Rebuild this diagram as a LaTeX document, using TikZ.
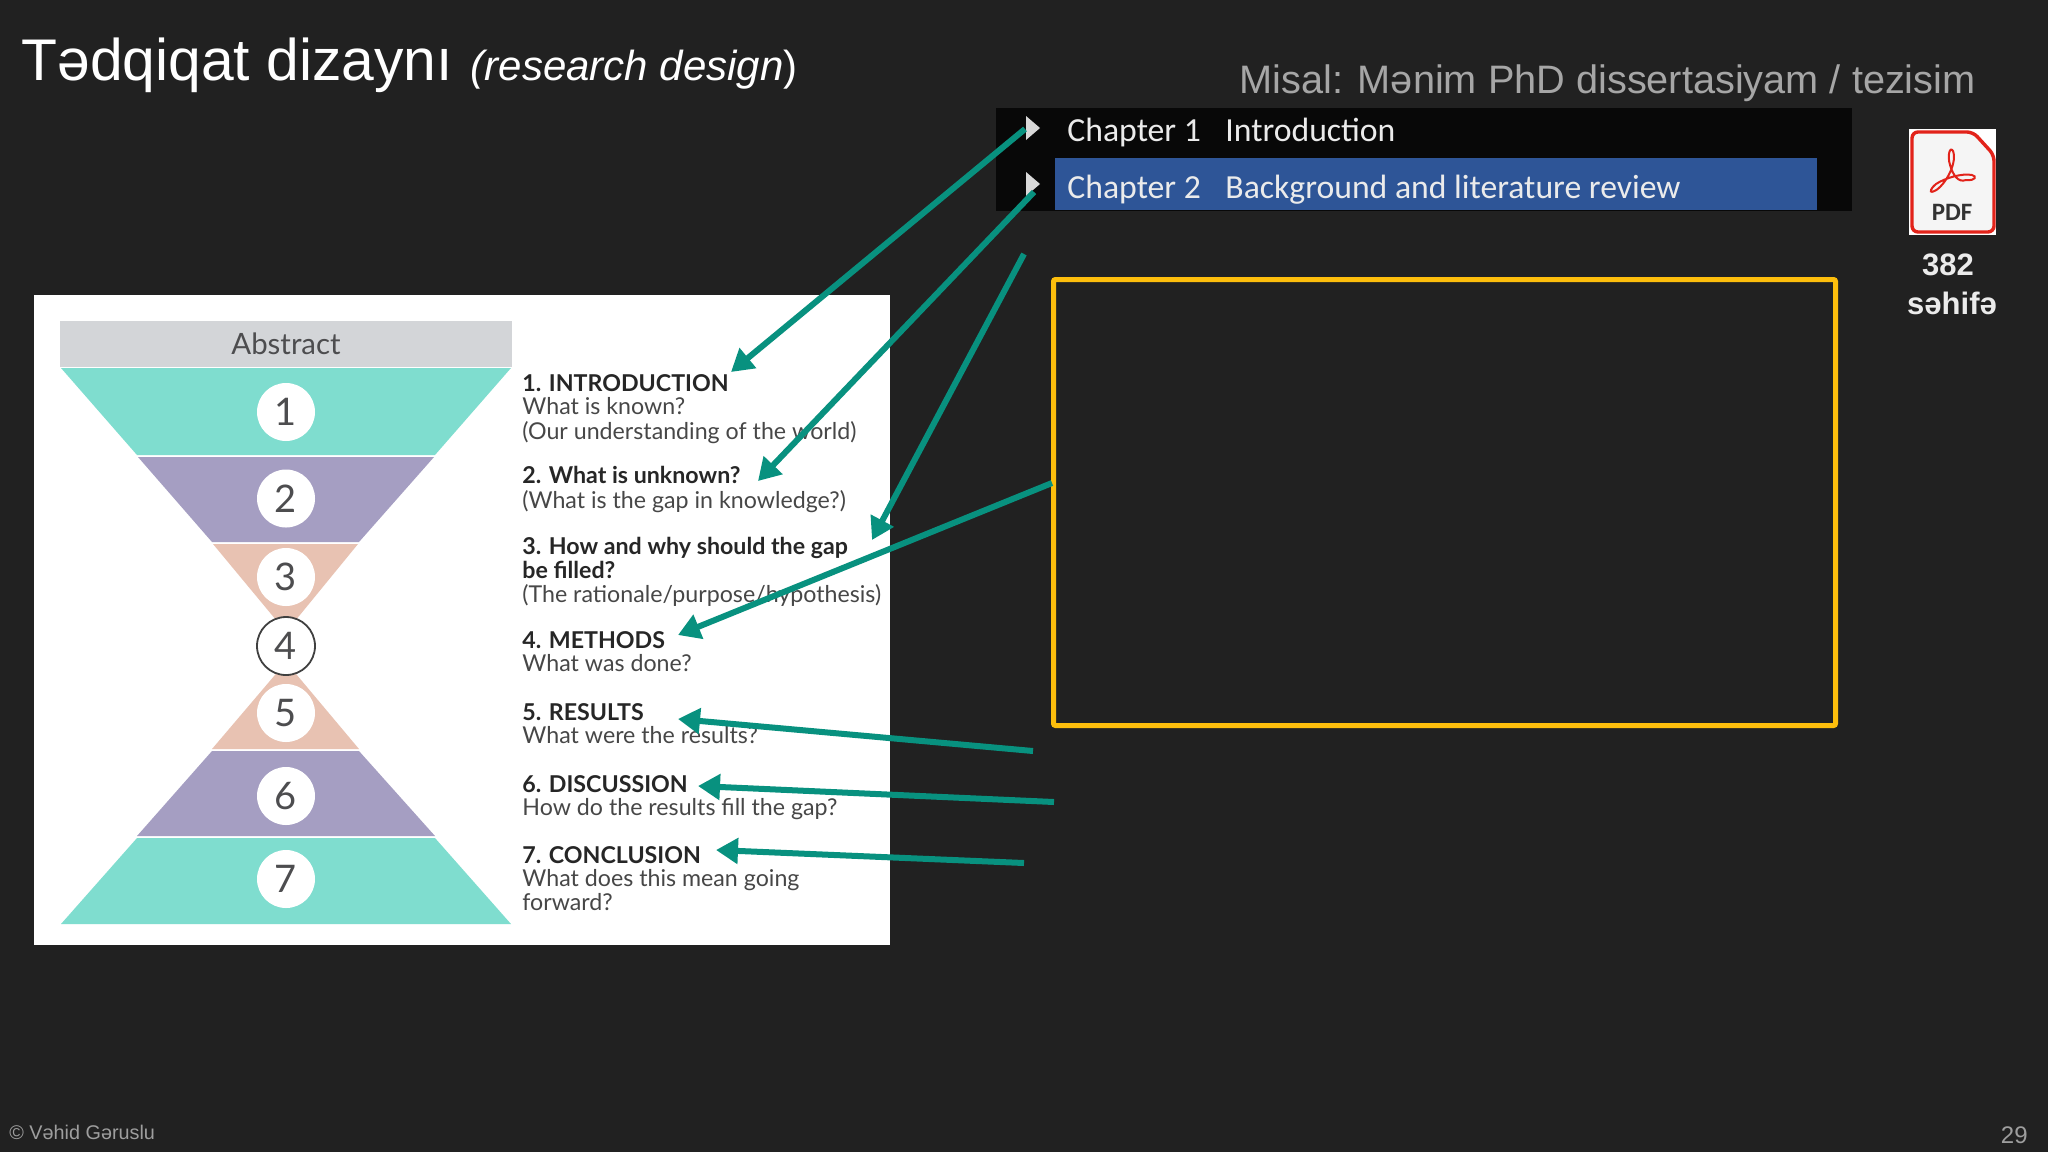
\documentclass[tikz,border=0pt]{standalone}
\usepackage{fontspec}
\setmainfont{Liberation Sans}
\newfontfamily\panelfont{Lato}
\newfontfamily\tocfont{Carlito}
\usetikzlibrary{arrows.meta}
\definecolor{bgc}{HTML}{212121}
\definecolor{tealband}{HTML}{7FDDCF}
\definecolor{purpband}{HTML}{A59EC2}
\definecolor{peachband}{HTML}{E8C2B2}
\definecolor{greybar}{HTML}{D3D5D8}
\definecolor{darktxt}{HTML}{4D4D4F}
\definecolor{arrowc}{HTML}{08917F}
\definecolor{goldc}{HTML}{FDBE0C}
\definecolor{bluec}{HTML}{2E5597}
\definecolor{pdfred}{HTML}{E2231A}
\newcommand{\headtxt}[1]{{\bfseries\color{black!85}#1}}
\tikzset{
  x=0.5pt,y=-0.5pt,
  band/.style={draw=none},
  num/.style={circle,fill=white,minimum size=29pt,inner sep=0pt,text=darktxt,font=\panelfont\fontsize{19}{20}\selectfont},
  sect/.style={anchor=north west,inner sep=0pt,align=left,text=black!72,font=\panelfont\fontsize{11.6}{12}\selectfont},
  arr/.style={draw=arrowc,line width=3pt,-{Triangle[length=11pt,width=12.5pt]}},
  toc/.style={anchor=base west,inner sep=0pt,text=white!92!black,font=\tocfont\fontsize{16.85}{18}\selectfont},
  tri/.style={fill=white!85!black},
}
\begin{document}
\begin{tikzpicture}
\useasboundingbox (0,0) rectangle (2048,1152);
\fill[bgc] (0,0) rectangle (2048,1152);

% titles
\node (title) [anchor=base west,inner sep=0pt,text=white] at (21,80)
  {\fontsize{29.4}{30}\selectfont Tədqiqat dizaynı\hspace{9pt}\fontsize{21}{22}\selectfont\itshape(research design\upshape)};
\node (misal) [anchor=base east,inner sep=0pt,text=white!65!black] at (1976,93)
  {\fontsize{19.85}{22}\selectfont Misal: Mənim PhD dissertasiyam / tezisim};

% white panel
\fill[white] (34,295) rectangle (890,945);
\node (abstract) [fill=greybar,minimum width=226pt,minimum height=23pt,inner sep=0pt,text=darktxt,font=\panelfont\fontsize{14.7}{16}\selectfont] at (286,343.5) {Abstract};
\fill[tealband,band] (61,368) -- (511,368) -- (435,455) -- (137,455) -- cycle;
\fill[purpband,band] (138,457) -- (434,457) -- (359,542) -- (212,542) -- cycle;
\fill[peachband,band] (213,544) -- (358,544) -- (286,632) -- cycle;
\fill[peachband,band] (286,662) -- (359,749) -- (212,749) -- cycle;
\fill[purpband,band] (212,751) -- (359,751) -- (435,836) -- (137,836) -- cycle;
\fill[tealband,band] (137,838) -- (435,838) -- (511,924) -- (61,924) -- cycle;
\node (c1) [num] at (286,412) {1};
\node (c2) [num] at (286,498.5) {2};
\node (c3) [num] at (286,577) {3};
\node (c4) [num,draw=black!75,line width=0.9pt] at (286,646) {4};
\node (c5) [num] at (286,713) {5};
\node (c6) [num] at (286,796) {6};
\node (c7) [num] at (286,879) {7};

\node (s1) [sect] at (522,374) {\strut\headtxt{1. INTRODUCTION}\\[-1.4pt]\strut What is known?\\[-1.4pt]\strut (Our understanding of the world)};
\node (s2) [sect] at (522,466) {\strut\headtxt{2. What is unknown?}\\[-1.4pt]\strut (What is the gap in knowledge?)};
\node (s3) [sect] at (522,537) {\strut\headtxt{3. How and why should the gap}\\[-1.4pt]\strut\headtxt{be filled?}\\[-1.4pt]\strut (The rationale/purpose/hypothesis)};
\node (s4) [sect] at (522,631) {\strut\headtxt{4. METHODS}\\[-1.4pt]\strut What was done?};
\node (s5) [sect] at (522,703) {\strut\headtxt{5. RESULTS}\\[-1.4pt]\strut What were the results?};
\node (s6) [sect] at (522,775) {\strut\headtxt{6. DISCUSSION}\\[-1.4pt]\strut How do the results fill the gap?};
\node (s7) [sect] at (522,846) {\strut\headtxt{7. CONCLUSION}\\[-1.4pt]\strut What does this mean going\\[-1.4pt]\strut forward?};

% chapter list
\fill[black!97] (996,108) rectangle (1852,211);
\fill[bluec] (1055,158) rectangle (1817,210);
\fill[tri] (1026,116) -- (1040,128) -- (1026,140) -- cycle;
\fill[tri] (1026,172) -- (1040,184) -- (1026,196) -- cycle;
\node (ch1) [toc] at (1067,141) {Chapter 1};
\node (ch1t) [toc] at (1225,141) {Introduction};
\node (ch2) [toc] at (1067,198) {Chapter 2};
\node (ch2t) [toc] at (1225,198) {Background and literature review};

% yellow frame
\node (frame) [draw=goldc,line width=2.5pt,rounded corners=1pt,minimum width=391pt,minimum height=223pt,inner sep=0pt] at (1444.5,502.5) {};

% pdf icon
\fill[white] (1909,129) rectangle (1996,235);
\draw[pdfred,fill=black!4,line width=1.7pt,rounded corners=3pt] (1912,132) -- (1973,132) -- (1994,155) -- (1994,232) -- (1912,232) -- cycle;
\draw[pdfred,line width=1pt] (1932,192) .. controls (1942,190) and (1958,165) .. (1953,151) .. controls (1950,146) and (1947,155) .. (1950,165) .. controls (1953,175) and (1958,183) .. (1966,180) .. controls (1976,181) and (1977,176) .. (1972,175) .. controls (1962,173) and (1945,178) .. (1936,184) .. controls (1930,189) and (1930,192) .. (1932,192);
\node (pdf) [inner sep=0pt,text=black!80,font=\tocfont\bfseries\fontsize{12.5}{14}\selectfont] at (1952,212) {PDF};
\node (pages) [inner sep=0pt,text=white!92!black,font=\bfseries\fontsize{15.5}{17}\selectfont] at (1948,265) {382};
\node (pagesw) [inner sep=0pt,text=white!92!black,font=\bfseries\fontsize{15.5}{17}\selectfont] at (1952,303) {səhifə};

% footer
\node (copy) [anchor=base west,inner sep=0pt,text=white!62!black] at (9,1139) {\fontsize{9.9}{12}\selectfont © Vəhid Gəruslu};
\node (pageno) [anchor=base east,inner sep=0pt,text=white!62!black] at (2028,1143) {\fontsize{12}{14}\selectfont 29};

% arrows
\coordinate (a1s) at (1025,129); \coordinate (a1t) at (731,372);
\coordinate (a2s) at (1034,192); \coordinate (a2t) at (758,481);
\coordinate (a3s) at (1024,254); \coordinate (a3t) at (872,540);
\coordinate (a4s) at (1052,483); \coordinate (a4t) at (678,635);
\coordinate (a5s) at (1033,751); \coordinate (a5t) at (678,719);
\coordinate (a6s) at (1054,802); \coordinate (a6t) at (698,786);
\coordinate (a7s) at (1024,863); \coordinate (a7t) at (716,850);
\draw[arr] (a1s) -- (a1t);
\draw[arr] (a2s) -- (a2t);
\draw[arr] (a3s) -- (a3t);
\draw[arr] (a4s) -- (a4t);
\draw[arr] (a5s) -- (a5t);
\draw[arr] (a6s) -- (a6t);
\draw[arr] (a7s) -- (a7t);
\end{tikzpicture}
\end{document}
